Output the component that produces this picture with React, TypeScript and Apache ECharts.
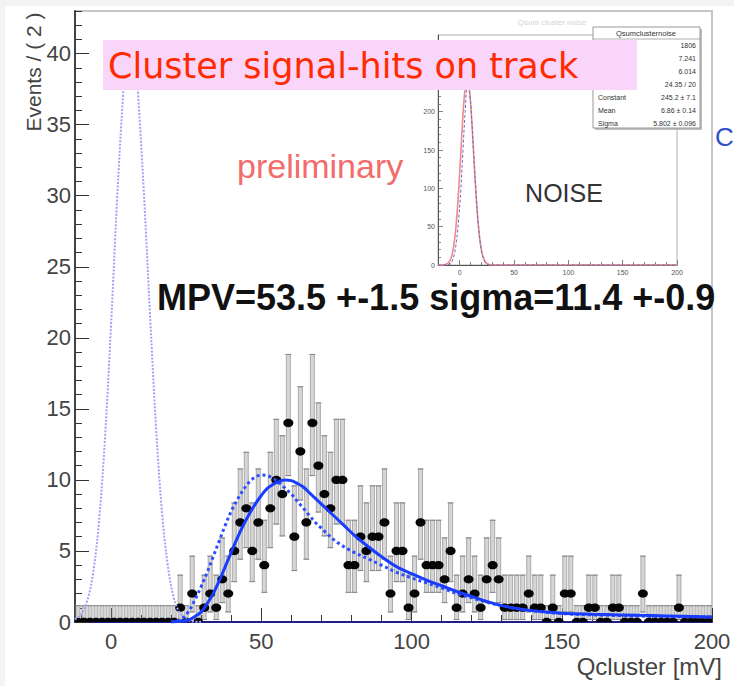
import React, { useEffect, useRef } from "react";
import * as echarts from "echarts";

// ---------------- data ----------------
const binCenters = [
  -11, -9, -7, -5, -3, -1, 1, 3, 5, 7, 9, 11, 13, 15, 17, 19, 21,
  23, 25, 27, 29, 31, 33, 35, 37, 39, 41, 43, 45, 47, 49, 51,
  53, 55, 57, 59, 61, 63, 65, 67, 69, 71, 73, 75, 77, 79, 81,
  83, 85, 87, 89, 91, 93, 95, 97, 99, 101, 103, 105, 107, 109, 111,
  113, 115, 117, 119, 121, 123, 125, 127, 129, 131, 133, 135, 137, 139, 141,
  143, 145, 147, 149, 151, 153, 155, 157, 159, 161, 163, 165, 167, 169, 171,
  173, 175, 177, 179, 181, 183, 185, 187, 189, 191, 193, 195, 197, 199,
];
const counts = [
  0, 0, 0, 0, 0, 0, 0, 0, 0, 0, 0, 0, 0, 0, 0, 0, 0,
  1, 0, 2, 0, 1, 2, 1, 3, 2, 5, 7, 8, 5, 7, 4,
  8, 10, 9, 14, 6, 12, 7, 14, 11, 9, 8, 10, 10, 4, 4,
  6, 5, 6, 6, 7, 2, 5, 5, 1, 2, 7, 4, 4, 4, 3,
  5, 1, 2, 3, 2, 1, 3, 4, 3, 1, 1, 1, 1, 2, 1,
  1, 0, 1, 0, 2, 2, 0, 0, 1, 1, 0, 0, 1, 1, 0,
  0, 0, 2, 0, 0, 0, 0, 0, 1, 0, 0, 0, 0, 0,
];
// asymmetric Poisson error table, index = count
const poissonLow = [0, 0.827, 1.292, 1.633, 1.914, 2.159, 2.38, 2.581, 2.768, 2.943, 3.108, 3.265, 3.415, 3.559, 3.699];
const poissonHigh = [1.148, 2.299, 2.637, 2.918, 3.162, 3.382, 3.583, 3.77, 3.944, 4.11, 4.266, 4.416, 4.559, 4.697, 4.83];

// noise gaussian (light blue dotted)
const noiseX = [-12, -10, -8, -6, -4, -2, 0, 2, 4, 5, 6, 7, 8, 9, 11, 13, 15, 17, 19, 21, 23, 25, 27, 30];
const noiseY = [0.18, 0.54, 1.44, 3.4, 7.1, 13.0, 20.9, 29.7, 37.1, 39.6, 40.8, 40.8, 39.6, 37.1, 29.9, 21.5, 13.6, 7.6, 3.8, 1.6, 0.6, 0.2, 0.05, 0.01];

// fit (solid blue)
const fitX = [20, 22, 24, 26, 28, 30, 32, 34, 36, 38, 40, 42, 44, 46, 48, 50, 52, 54, 56, 58, 60, 62, 64, 66, 68, 70, 72, 75, 78, 81, 85, 90, 95, 100, 105, 110, 115, 120, 125, 130, 135, 140, 145, 150, 160, 170, 180, 190, 200];
const fitY = [0, 0.03, 0.08, 0.15, 0.4, 0.7, 1.3, 2.0, 2.9, 3.9, 4.9, 5.9, 6.8, 7.6, 8.3, 8.9, 9.4, 9.7, 9.9, 10.0, 9.95, 9.75, 9.5, 9.1, 8.7, 8.3, 7.9, 7.3, 6.7, 6.1, 5.4, 4.6, 3.9, 3.4, 2.95, 2.55, 2.15, 1.8, 1.45, 1.15, 0.95, 0.8, 0.7, 0.62, 0.55, 0.5, 0.45, 0.4, 0.35];

// alternative curve (blue dotted)
const altX = [20, 22, 24, 26, 28, 30, 32, 34, 36, 38, 40, 42, 44, 46, 48, 50, 52, 54, 56, 58, 60, 62, 64, 66, 68, 70, 73, 76, 80, 85, 90, 95, 100, 105, 110, 115, 120, 125, 130, 135, 140, 150, 160, 170, 180, 190, 200];
const altY = [0, 0.1, 0.3, 0.8, 1.6, 2.5, 3.5, 4.6, 5.7, 6.8, 7.8, 8.6, 9.3, 9.85, 10.2, 10.35, 10.3, 10.1, 9.8, 9.4, 9.0, 8.5, 8.0, 7.5, 7.0, 6.6, 6.0, 5.5, 5.0, 4.5, 4.0, 3.5, 3.1, 2.75, 2.4, 2.0, 1.7, 1.4, 1.15, 0.95, 0.8, 0.6, 0.5, 0.45, 0.4, 0.37, 0.35];

// inset (noise distribution)
const insetGaussX = [-20, -14, -10, -8, -6, -4, -2, 0, 2, 4, 6, 7, 8, 10, 12, 14, 16, 18, 20, 22, 24, 28, 32, 200];
const insetGaussY = [0, 0.4, 3.5, 9.0, 20.7, 41.9, 75.5, 120.8, 171.5, 216, 242, 245, 240.6, 212, 166.5, 115.9, 71.5, 39.3, 19.1, 8.3, 3.2, 0.3, 0, 0];
const insetHistX = [-20, -12, -9, -7, -5, -3, -1, 1, 3, 5, 7, 9, 11, 13, 15, 17, 19, 21, 23, 25, 27, 30, 200];
const insetHistY = [0, 0, 1, 5, 14, 31, 60, 98, 150, 200, 232, 225, 190, 140, 93, 55, 28, 12, 5, 1, 0, 0, 0];

// tick labels
const xTicks = [0, 50, 100, 150, 200];
const yTicks = [0, 5, 10, 15, 20, 25, 30, 35, 40];
const insetXTicks = [0, 50, 100, 150, 200];
const insetYTicks = [0, 50, 100, 150, 200];

const statsTitle = "Qsumclusternoise";
const statsValues = ["1806", "7.241", "6.014", "24.35 / 20", "245.2 \u00b1 7.1", "6.86 \u00b1 0.14", "5.802 \u00b1 0.096"];
const statsLabels = ["", "", "", "", "Constant", "Mean", "Sigma"];

// ---------------- helpers ----------------
const SANS = '"Liberation Sans", Arial, Helvetica, sans-serif';

const range = (a: number, b: number, step: number) => {
  const r: number[] = [];
  for (let v = a; v <= b + 1e-9; v += step) r.push(v);
  return r;
};
const xMinor = range(-10, 200, 10).filter((v) => v % 50 !== 0);
const yMinor = range(1, 43, 1).filter((v) => v % 5 !== 0);
const insetXMinor = range(-20, 200, 10).filter((v) => v % 50 !== 0);
const insetYMinor = range(10, 300, 10).filter((v) => v % 50 !== 0);

const zip = (xs: number[], ys: number[]) => xs.map((x, i) => [x, ys[i]]);

function buildOption() {
  const dataPts = binCenters.map((x, i) => {
    const n = counts[i];
    return [x, n, n - poissonLow[n], n + poissonHigh[n]];
  });

  const tickLine = { color: "#333", width: 1 };

  const mainX = (extra: any) => ({
    type: "value",
    gridIndex: 0,
    min: -12,
    max: 200,
    position: "bottom",
    splitLine: { show: false },
    ...extra,
  });
  const mainY = (extra: any) => ({
    type: "value",
    gridIndex: 0,
    min: 0,
    max: 43,
    position: "left",
    splitLine: { show: false },
    ...extra,
  });
  const insX = (extra: any) => ({
    type: "value",
    gridIndex: 1,
    min: -20,
    max: 200,
    position: "bottom",
    splitLine: { show: false },
    ...extra,
  });
  const insY = (extra: any) => ({
    type: "value",
    gridIndex: 1,
    min: 0,
    max: 300,
    position: "left",
    splitLine: { show: false },
    ...extra,
  });

  const statsRowsY = [45, 58, 71, 84, 97, 110, 123];
  const statsElements: any[] = [
    { type: "rect", z: 50, shape: { x: 595, y: 29, width: 107, height: 101 }, style: { fill: "#bdbdbd" } },
    { type: "rect", z: 51, shape: { x: 593, y: 27, width: 107, height: 101 }, style: { fill: "#fff", stroke: "#999", lineWidth: 1 } },
    { type: "line", z: 52, shape: { x1: 593, y1: 39, x2: 700, y2: 39 }, style: { stroke: "#999", lineWidth: 0.8 } },
    { type: "text", z: 52, x: 646, y: 33, style: { text: statsTitle, fontSize: 7.5, fontFamily: SANS, fill: "#333", align: "center", verticalAlign: "middle" } },
  ];
  statsValues.forEach((v, i) => {
    statsElements.push({ type: "text", z: 52, x: 696, y: statsRowsY[i], style: { text: v, fontSize: 7, fontFamily: SANS, fill: "#333", align: "right", verticalAlign: "middle" } });
    if (statsLabels[i]) {
      statsElements.push({ type: "text", z: 52, x: 598, y: statsRowsY[i], style: { text: statsLabels[i], fontSize: 7, fontFamily: SANS, fill: "#333", align: "left", verticalAlign: "middle" } });
    }
  });

  return {
    animation: false,
    backgroundColor: "#ffffff",
    grid: [
      { left: 75, top: 11, width: 637, height: 611, show: true, borderColor: "#c6c6c6", borderWidth: 2, backgroundColor: "transparent", containLabel: false, outerBoundsMode: "none" },
      { left: 438, top: 35, width: 239, height: 230, show: true, borderColor: "#b0b0b0", borderWidth: 1, backgroundColor: "transparent", containLabel: false, outerBoundsMode: "none" },
    ],
    xAxis: [
      mainX({
        axisLine: { show: true, onZero: false, lineStyle: { color: "#1e1e86", width: 2 } },
        axisTick: { show: true, inside: true, length: 14, customValues: xTicks, lineStyle: tickLine },
        axisLabel: { show: true, customValues: xTicks, fontSize: 22, color: "#444", fontFamily: SANS, margin: 8 },
      }),
      mainX({
        axisLine: { show: false, onZero: false },
        axisTick: { show: true, inside: true, length: 7, customValues: xMinor, lineStyle: tickLine },
        axisLabel: { show: false },
      }),
      insX({
        axisLine: { show: true, onZero: false, lineStyle: { color: "#555", width: 1 } },
        axisTick: { show: true, inside: true, length: 5, customValues: insetXTicks, lineStyle: { color: "#666", width: 0.8 } },
        axisLabel: { show: true, customValues: insetXTicks, fontSize: 7, color: "#555", fontFamily: SANS, margin: 4 },
      }),
      insX({
        axisLine: { show: false, onZero: false },
        axisTick: { show: true, inside: true, length: 3, customValues: insetXMinor, lineStyle: { color: "#666", width: 0.8 } },
        axisLabel: { show: false },
      }),
    ],
    yAxis: [
      mainY({
        axisLine: { show: true, onZero: false, lineStyle: { color: "#444", width: 2 } },
        axisTick: { show: true, inside: true, length: 14, customValues: yTicks, lineStyle: tickLine },
        axisLabel: { show: true, customValues: yTicks, fontSize: 22, color: "#444", fontFamily: SANS, margin: 4 },
      }),
      mainY({
        axisLine: { show: false, onZero: false },
        axisTick: { show: true, inside: true, length: 7, customValues: yMinor, lineStyle: tickLine },
        axisLabel: { show: false },
      }),
      insY({
        axisLine: { show: true, onZero: false, lineStyle: { color: "#555", width: 1 } },
        axisTick: { show: true, inside: true, length: 5, customValues: insetYTicks, lineStyle: { color: "#666", width: 0.8 } },
        axisLabel: { show: true, customValues: insetYTicks, fontSize: 7, color: "#555", fontFamily: SANS, margin: 3 },
      }),
      insY({
        axisLine: { show: false, onZero: false },
        axisTick: { show: true, inside: true, length: 3, customValues: insetYMinor, lineStyle: { color: "#666", width: 0.8 } },
        axisLabel: { show: false },
      }),
    ],
    series: [
      {
        name: "errors",
        type: "custom",
        xAxisIndex: 0,
        yAxisIndex: 0,
        z: 1,
        clip: true,
        silent: true,
        encode: { x: 0, y: 1 },
        data: dataPts,
        renderItem: (_params: any, api: any) => {
          const x = api.value(0);
          const lo = api.value(2);
          const hi = api.value(3);
          const top = api.coord([x, hi]);
          const bot = api.coord([x, lo]);
          const cx = top[0];
          const children: any[] = [
            { type: "rect", shape: { x: cx - 2, y: top[1], width: 4, height: Math.max(0, bot[1] - top[1]) }, style: { fill: "#d6d6d6", stroke: "#9a9a9a", lineWidth: 0.8 } },
            { type: "line", shape: { x1: cx - 3, y1: top[1], x2: cx + 3, y2: top[1] }, style: { stroke: "#888", lineWidth: 1 } },
          ];
          if (lo > 0) {
            children.push({ type: "line", shape: { x1: cx - 3, y1: bot[1], x2: cx + 3, y2: bot[1] }, style: { stroke: "#888", lineWidth: 1 } });
          }
          return { type: "group", children };
        },
      },
      {
        name: "data",
        type: "custom",
        xAxisIndex: 0,
        yAxisIndex: 0,
        z: 2,
        clip: true,
        silent: true,
        encode: { x: 0, y: 1 },
        data: dataPts,
        renderItem: (_params: any, api: any) => {
          const p = api.coord([api.value(0), api.value(1)]);
          return { type: "ellipse", shape: { cx: p[0], cy: p[1], rx: 5, ry: 4.2 }, style: { fill: "#050505" } };
        },
      },
      {
        name: "noise",
        type: "line",
        xAxisIndex: 0,
        yAxisIndex: 0,
        z: 3,
        smooth: 0.35,
        symbol: "none",
        silent: true,
        lineStyle: { color: "#a2a2f8", width: 2, type: [2, 1.5] },
        data: zip(noiseX, noiseY),
      },
      {
        name: "alt",
        type: "line",
        xAxisIndex: 0,
        yAxisIndex: 0,
        z: 3,
        smooth: 0.35,
        symbol: "none",
        silent: true,
        lineStyle: { color: "#2d4dff", width: 3, type: [3, 3] },
        data: zip(altX, altY),
      },
      {
        name: "fit",
        type: "line",
        xAxisIndex: 0,
        yAxisIndex: 0,
        z: 4,
        smooth: 0.35,
        symbol: "none",
        silent: true,
        lineStyle: { color: "#1a3cff", width: 3 },
        data: zip(fitX, fitY),
      },
      {
        name: "insetGauss",
        type: "line",
        xAxisIndex: 2,
        yAxisIndex: 2,
        z: 3,
        smooth: 0.35,
        symbol: "none",
        silent: true,
        lineStyle: { color: "#f08a8a", width: 1.6 },
        data: zip(insetGaussX, insetGaussY),
      },
      {
        name: "insetHist",
        type: "line",
        xAxisIndex: 2,
        yAxisIndex: 2,
        z: 4,
        smooth: 0.35,
        symbol: "none",
        silent: true,
        lineStyle: { color: "#6a6ac8", width: 1, type: [3, 2] },
        data: zip(insetHistX, insetHistY),
      },
    ],
    graphic: {
      elements: [
        { type: "rect", silent: true, shape: { x: 0, y: 0, width: 734, height: 6 }, style: { fill: "#f3f3f1" } },
        { type: "rect", silent: true, shape: { x: 0, y: 0, width: 5, height: 686 }, style: { fill: "#f3f3f1" } },
        {
          type: "text",
          x: 33,
          y: 72,
          rotation: Math.PI / 2,
          style: { text: "Events / ( 2 )", fontSize: 21, fontFamily: SANS, fill: "#444", align: "center", verticalAlign: "middle" },
        },
        {
          type: "text",
          x: 722,
          y: 666,
          style: { text: "Qcluster [mV]", fontSize: 24, fontFamily: SANS, fill: "#444", align: "right", verticalAlign: "middle" },
        },
        {
          type: "text",
          x: 237,
          y: 166,
          style: { text: "preliminary", fontSize: 34, fontFamily: SANS, fill: "#f26c6c", align: "left", verticalAlign: "middle" },
        },
        {
          type: "text",
          x: 157,
          y: 297,
          style: { text: "MPV=53.5 +-1.5 sigma=11.4 +-0.9", fontSize: 36, fontWeight: "bold", fontFamily: SANS, fill: "#111", align: "left", verticalAlign: "middle" },
        },
        {
          type: "text",
          x: 564,
          y: 193,
          style: { text: "NOISE", fontSize: 25, fontFamily: SANS, fill: "#333", align: "center", verticalAlign: "middle" },
        },
        {
          type: "text",
          x: 552,
          y: 22,
          style: { text: "Qsum cluster noise", fontSize: 8, fontFamily: SANS, fill: "#d4d4d4", align: "center", verticalAlign: "middle" },
        },
        ...statsElements,
        { type: "rect", z: 100, shape: { x: 103, y: 40, width: 534, height: 50 }, style: { fill: "#fad5fa" } },
        {
          type: "text",
          z: 101,
          x: 108,
          y: 66,
          style: { text: "Cluster signal-hits on track", fontSize: 35, fontFamily: '"DejaVu Sans", sans-serif', fill: "#ff2a00", align: "left", verticalAlign: "middle" },
        },
        {
          type: "text",
          x: 715,
          y: 137,
          style: { text: "C", fontSize: 26, fontFamily: SANS, fill: "#2f50c8", align: "left", verticalAlign: "middle" },
        },
      ],
    },
  };
}

export default function App() {
  const ref = useRef<HTMLDivElement>(null);
  useEffect(() => {
    if (!ref.current) return;
    const chart = echarts.init(ref.current, null, { renderer: "svg" });
    chart.setOption(buildOption() as any);
    return () => {
      chart.dispose();
    };
  }, []);
  return (
    <div
      ref={ref}
      style={{ position: "absolute", left: 0, top: 0, width: 734, height: 686, background: "#fff" }}
    />
  );
}
